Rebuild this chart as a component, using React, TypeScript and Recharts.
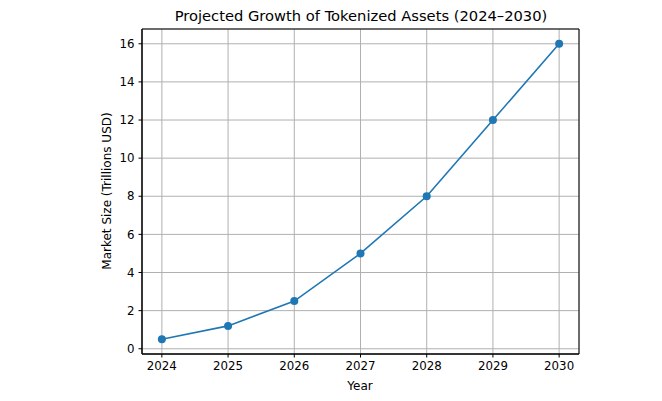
import React from 'react'
import { LineChart, Line, XAxis, YAxis, CartesianGrid, ReferenceArea } from 'recharts'

const years = [2024, 2025, 2026, 2027, 2028, 2029, 2030]
const marketSize = [0.5, 1.2, 2.5, 5, 8, 12, 16]
const yTicks = [0, 2, 4, 6, 8, 10, 12, 14, 16]

const data = years.map((year, i) => ({ year, size: marketSize[i] }))

const FONT = 'DejaVu Sans, sans-serif'
const X_DOMAIN: [number, number] = [2023.7, 2030.3]
const Y_DOMAIN: [number, number] = [-0.275, 16.775]

const App = () => {
    return (
        <div style={{ position: 'fixed', top: 0, left: 0, width: 662, height: 401, background: '#fff' }}>
            <LineChart
                width={662}
                height={401}
                data={data}
                margin={{ top: 29, right: 83, bottom: 17, left: 82 }}
            >
                <text x={361} y={21} textAnchor="middle" fontFamily={FONT} fontSize={14.7} fill="#000">
                    Projected Growth of Tokenized Assets (2024–2030)
                </text>
                <text
                    x={111}
                    y={191}
                    textAnchor="middle"
                    fontFamily={FONT}
                    fontSize={12}
                    fill="#000"
                    transform="rotate(-90 111 191)"
                >
                    Market Size (Trillions USD)
                </text>
                <text x={360} y={390} textAnchor="middle" fontFamily={FONT} fontSize={12} fill="#000">
                    Year
                </text>
                <CartesianGrid stroke="#b0b0b0" strokeWidth={1} />
                <XAxis
                    dataKey="year"
                    type="number"
                    domain={X_DOMAIN}
                    ticks={years}
                    allowDataOverflow
                    height={30}
                    stroke="#000"
                    tickSize={3.5}
                    tickMargin={4}
                    tick={{ fill: '#000', fontSize: 11.8, fontFamily: FONT }}
                />
                <YAxis
                    type="number"
                    domain={Y_DOMAIN}
                    ticks={yTicks}
                    allowDataOverflow
                    width={60}
                    stroke="#000"
                    tickSize={3.5}
                    tickMargin={4}
                    tick={{ fill: '#000', fontSize: 11.8, fontFamily: FONT }}
                />
                <ReferenceArea
                    x1={X_DOMAIN[0]}
                    x2={X_DOMAIN[1]}
                    y1={Y_DOMAIN[0]}
                    y2={Y_DOMAIN[1]}
                    fill="none"
                    fillOpacity={0}
                    stroke="#000"
                    strokeWidth={1}
                    ifOverflow="visible"
                />
                <Line
                    dataKey="size"
                    stroke="#1f77b4"
                    strokeWidth={1.6}
                    dot={{ r: 4, fill: '#1f77b4', stroke: '#1f77b4', strokeWidth: 0 }}
                    activeDot={false}
                    isAnimationActive={false}
                />
            </LineChart>
        </div>
    )
}

export default App
